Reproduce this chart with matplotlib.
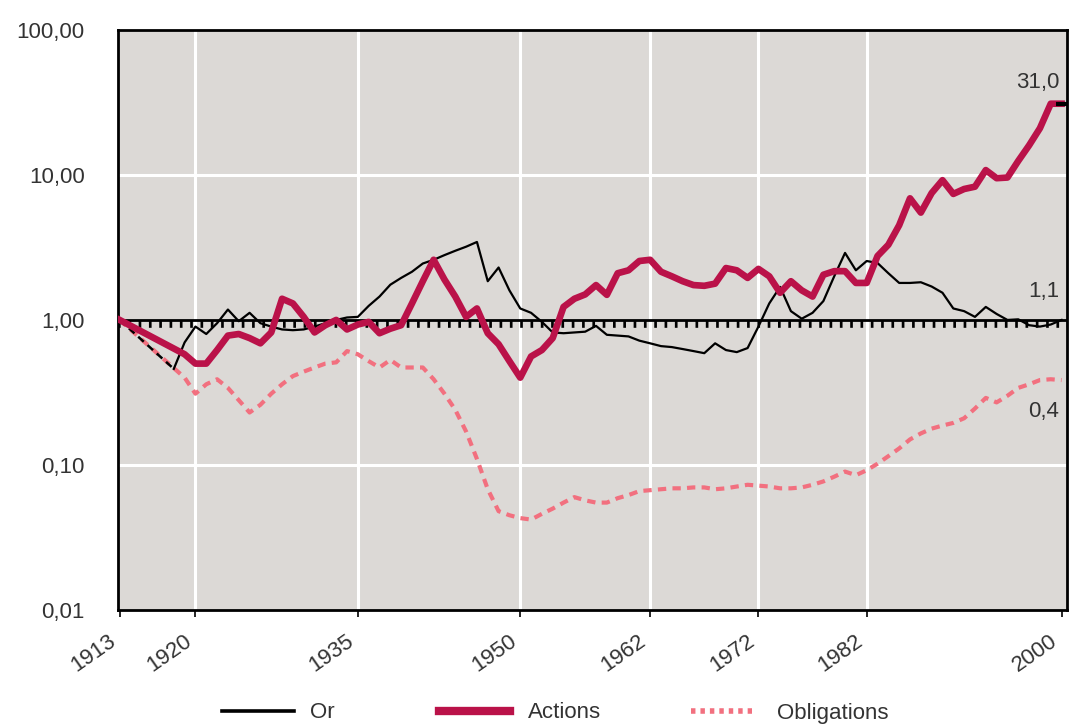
import matplotlib
matplotlib.use("Agg")
import matplotlib.pyplot as plt
from matplotlib.lines import Line2D
from matplotlib.ticker import FixedLocator, NullLocator

plt.rcParams['font.family'] = ['Liberation Sans', 'DejaVu Sans']

# ---------------- data ----------------
tick_years = [1913, 1920, 1935, 1950, 1962, 1972, 1982, 2000]
y_ticks = [0.01, 0.1, 1, 10, 100]
y_ticklabels = ["0,01", "0,10", "1,00", "10,00", "100,00"]

or_years = [1913, 1918, 1919, 1920, 1921, 1922, 1923, 1924, 1925, 1926, 1927,
            1928, 1929, 1930, 1931, 1932, 1933, 1934, 1935, 1936, 1937, 1938,
            1939, 1940, 1941, 1942, 1943, 1944, 1945, 1946, 1947, 1948, 1949,
            1950, 1951, 1952, 1953, 1954, 1955, 1956, 1957, 1958, 1959, 1960,
            1961, 1962, 1963, 1964, 1965, 1966, 1967, 1968, 1969, 1970, 1971,
            1972, 1973, 1974, 1975, 1976, 1977, 1978, 1979, 1980, 1981, 1982,
            1983, 1984, 1985, 1986, 1987, 1988, 1989, 1990, 1991, 1992, 1993,
            1994, 1995, 1996, 1997, 1998, 1999, 2000]
or_vals = [1.0, 0.46, 0.70, 0.90, 0.80, 0.95, 1.18, 0.98, 1.12, 0.95, 0.90,
           0.86, 0.85, 0.86, 0.90, 0.95, 1.00, 1.04, 1.05, 1.25, 1.45, 1.75,
           1.95, 2.15, 2.45, 2.60, 2.80, 3.00, 3.20, 3.45, 1.85, 2.30, 1.60,
           1.20, 1.12, 0.97, 0.82, 0.81, 0.82, 0.83, 0.91, 0.79, 0.78, 0.77,
           0.72, 0.69, 0.66, 0.65, 0.63, 0.61, 0.59, 0.69, 0.62, 0.60, 0.64,
           0.90, 1.30, 1.69, 1.15, 1.02, 1.12, 1.35, 2.00, 2.90, 2.20, 2.55,
           2.47, 2.10, 1.80, 1.80, 1.82, 1.70, 1.54, 1.20, 1.15, 1.05, 1.23,
           1.10, 1.00, 1.01, 0.92, 0.90, 0.93, 1.00]

act_years = [1913, 1919, 1920, 1921, 1922, 1923, 1924, 1925, 1926, 1927, 1928,
             1929, 1930, 1931, 1932, 1933, 1934, 1935, 1936, 1937, 1938, 1939,
             1940, 1941, 1942, 1943, 1944, 1945, 1946, 1947, 1948, 1949, 1950,
             1951, 1952, 1953, 1954, 1955, 1956, 1957, 1958, 1959, 1960, 1961,
             1962, 1963, 1964, 1965, 1966, 1967, 1968, 1969, 1970, 1971, 1972,
             1973, 1974, 1975, 1976, 1977, 1978, 1979, 1980, 1981, 1982, 1983,
             1984, 1985, 1986, 1987, 1988, 1989, 1990, 1991, 1992, 1993, 1994,
             1995, 1996, 1997, 1998, 1999, 2000]
act_vals = [1.0, 0.58, 0.50, 0.50, 0.62, 0.78, 0.80, 0.75, 0.69, 0.82, 1.40,
            1.30, 1.05, 0.82, 0.92, 1.00, 0.86, 0.93, 0.97, 0.81, 0.87, 0.92,
            1.30, 1.85, 2.60, 1.90, 1.45, 1.05, 1.20, 0.81, 0.68, 0.52, 0.40,
            0.56, 0.62, 0.75, 1.23, 1.40, 1.50, 1.74, 1.49, 2.10, 2.20, 2.55,
            2.60, 2.15, 2.00, 1.85, 1.74, 1.72, 1.78, 2.28, 2.20, 1.95, 2.25,
            2.00, 1.54, 1.85, 1.60, 1.45, 2.05, 2.17, 2.17, 1.80, 1.80, 2.76,
            3.30, 4.50, 6.90, 5.50, 7.50, 9.20, 7.40, 8.00, 8.30, 10.8, 9.50,
            9.60, 12.5, 16.0, 21.0, 31.0, 31.0]

obl_years = [1913, 1919, 1920, 1921, 1922, 1923, 1924, 1925, 1926, 1927, 1928,
             1929, 1930, 1931, 1932, 1933, 1934, 1935, 1936, 1937, 1938, 1939,
             1940, 1941, 1942, 1943, 1944, 1945, 1946, 1947, 1948, 1949, 1950,
             1951, 1952, 1953, 1954, 1955, 1956, 1957, 1958, 1959, 1960, 1961,
             1962, 1963, 1964, 1965, 1966, 1967, 1968, 1969, 1970, 1971, 1972,
             1973, 1974, 1975, 1976, 1977, 1978, 1979, 1980, 1981, 1982, 1983,
             1984, 1985, 1986, 1987, 1988, 1989, 1990, 1991, 1992, 1993, 1994,
             1995, 1996, 1997, 1998, 1999, 2000]
obl_vals = [1.0, 0.40, 0.31, 0.36, 0.39, 0.34, 0.28, 0.23, 0.26, 0.31, 0.36,
            0.41, 0.44, 0.47, 0.50, 0.51, 0.61, 0.58, 0.52, 0.47, 0.53, 0.47,
            0.47, 0.47, 0.39, 0.31, 0.24, 0.17, 0.11, 0.068, 0.048, 0.045, 0.043,
            0.042, 0.046, 0.050, 0.055, 0.060, 0.057, 0.055, 0.055, 0.059, 0.062,
            0.066, 0.067, 0.068, 0.069, 0.069, 0.070, 0.070, 0.068, 0.069, 0.071,
            0.073, 0.072, 0.071, 0.069, 0.069, 0.070, 0.073, 0.077, 0.083, 0.090,
            0.085, 0.092, 0.102, 0.115, 0.13, 0.15, 0.165, 0.178, 0.187, 0.195,
            0.21, 0.245, 0.29, 0.27, 0.30, 0.34, 0.36, 0.385, 0.39, 0.385]

series_names = ["Or", "Actions", "Obligations"]
end_labels = ["31,0", "1,1", "0,4"]
end_label_vals = [43.5, 1.58, 0.235]

# ---------------- style ----------------
BG = "#dcd9d6"
RED = "#ba1249"
PINK = "#f2707f"
TXT = "#333333"
FS = 16

fig = plt.figure(figsize=(10.73, 7.27), dpi=100)
ax = fig.add_axes([0.110, 0.161, 0.8844, 0.7978])
ax.set_facecolor(BG)
ax.set_yscale("log")
ax.set_ylim(0.01, 100)
ax.set_xlim(1912.85, 2000.5)

# grid
for yr in tick_years[1:-1]:
    ax.axvline(yr, color="white", lw=2.2, zorder=1)
for v in [0.1, 10]:
    ax.axhline(v, color="white", lw=2.2, zorder=1)

# reference line at 1 with comb
ax.axhline(1.0, color="black", lw=2.0, zorder=2)
ax.axhline(0.94, color="black", lw=5.5, linestyle=(0, (0.35, 1.0)),
           dash_capstyle="butt", zorder=2)

# series
ax.plot(obl_years, obl_vals, color=PINK, lw=3.0, linestyle=(0, (2.0, 1.5)),
        dash_capstyle="butt", zorder=3)
ax.plot(or_years[:2], or_vals[:2], color="black", lw=1.8,
        linestyle=(0, (3, 2)), zorder=4)
ax.plot(or_years[1:], or_vals[1:], color="black", lw=1.6, zorder=4)
ax.plot(act_years, act_vals, color=RED, lw=4.8, solid_joinstyle="round",
        zorder=5)
ax.plot(act_years[-1:], act_vals[-1:], marker="_", color="black", ms=9,
        mew=3, zorder=6)

for lab, v in zip(end_labels, end_label_vals):
    ax.text(1999.8, v, lab, ha="right", va="center", fontsize=FS, color=TXT,
            zorder=7)

# axes
ax.xaxis.set_major_locator(FixedLocator(tick_years))
ax.set_xticklabels([str(y) for y in tick_years], rotation=35, ha="right",
                   va="top", fontsize=FS, color=TXT)
ax.tick_params(axis="x", length=5, width=1.2, pad=10, direction="out")
ax.yaxis.set_major_locator(FixedLocator(y_ticks))
ax.yaxis.set_minor_locator(NullLocator())
ax.set_yticklabels(y_ticklabels, fontsize=FS, color=TXT)
ax.tick_params(axis="y", length=0, pad=24)
for s in ax.spines.values():
    s.set_linewidth(2.0)
    s.set_color("black")

# legend (three single-entry legends placed along the bottom)
handles = [Line2D([], [], color="black", lw=2.6),
           Line2D([], [], color=RED, lw=6),
           Line2D([], [], color=PINK, lw=4, linestyle=(0, (0.8, 0.9)),
                  dash_capstyle="butt")]
leg_x = [222 / 1073, 439 / 1073, 691 / 1073]
leg_len = [3.25, 3.2, 2.75]
leg_pad = [0.7, 0.8, 1.1]
for h, name, x0, hl, tp in zip(handles, series_names, leg_x, leg_len, leg_pad):
    fig.legend([h], [name], loc="center left", bbox_to_anchor=(x0, 1 - 713 / 727),
               frameon=False, handlelength=hl, handletextpad=tp, borderpad=0,
               borderaxespad=0, prop={"size": FS}, labelcolor=TXT)

fig.savefig("out.png", dpi=100, facecolor="white")
